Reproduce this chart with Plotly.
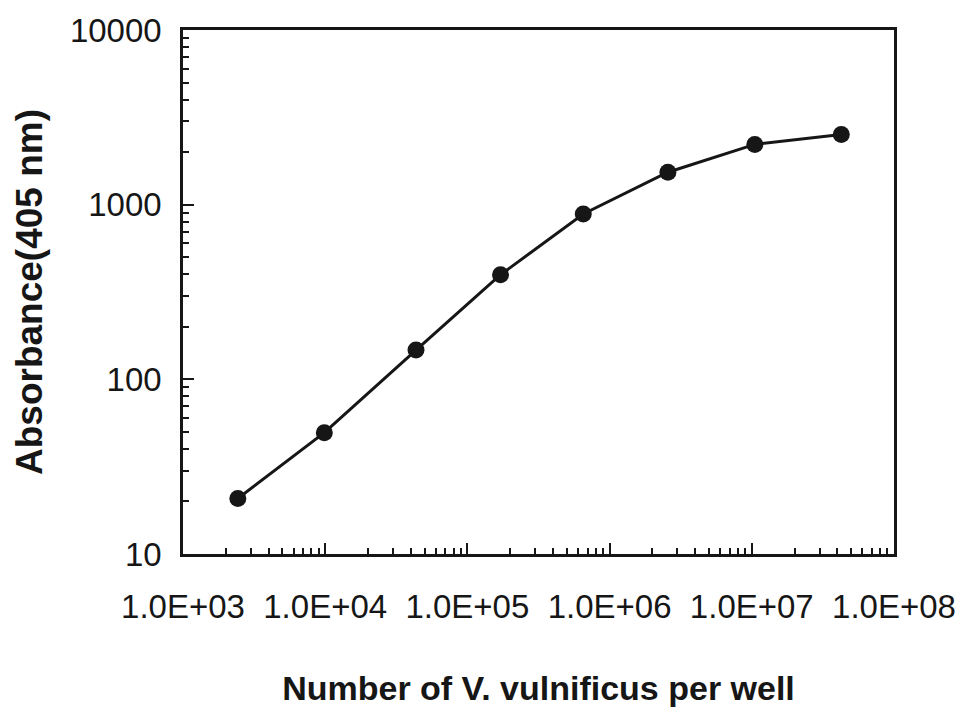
import plotly.graph_objects as go

# Cells per well (4-fold dilution series) and ELISA signal
cells_per_well = [2.43e3, 9.86e3, 4.35e4, 1.71e5, 6.53e5, 2.57e6, 1.05e7, 4.26e7]
absorbance = [20.8, 49.5, 147, 397, 884, 1533, 2213, 2523]

x_tickvals = [1e3, 1e4, 1e5, 1e6, 1e7, 1e8]
x_ticktext = ["1.0E+03", "1.0E+04", "1.0E+05", "1.0E+06", "1.0E+07", "1.0E+08"]
y_tickvals = [10, 100, 1000, 10000]
y_ticktext = ["10", "100", "1000", "10000"]

# Minor ticks at 2..9 within each decade
x_minor = [m * d for d in x_tickvals[:-1] for m in range(2, 10)]
y_minor = [m * d for d in y_tickvals[:-1] for m in range(2, 10)]

ink = "#161616"
font_family = "Liberation Sans, Arial, sans-serif"

fig = go.Figure(
    go.Scatter(
        x=cells_per_well,
        y=absorbance,
        mode="lines+markers",
        line=dict(color=ink, width=3),
        marker=dict(color=ink, size=17),
        showlegend=False,
    )
)

fig.update_layout(
    width=968,
    height=714,
    margin=dict(l=183, r=71, t=27, b=160),
    paper_bgcolor="white",
    plot_bgcolor="white",
    font=dict(family=font_family, color=ink),
)

fig.update_xaxes(
    type="log",
    range=[3, 8],
    tickvals=x_tickvals,
    ticktext=x_ticktext,
    tickfont=dict(size=33),
    ticks="inside",
    ticklen=11,
    tickwidth=2,
    tickcolor=ink,
    minor=dict(
        tickmode="array",
        tickvals=x_minor,
        ticks="inside",
        ticklen=6,
        tickwidth=1.5,
        tickcolor=ink,
        showgrid=False,
    ),
    ticklabelstandoff=22,
    showline=True,
    linecolor=ink,
    linewidth=2.5,
    mirror=True,
    showgrid=False,
    zeroline=False,
    title=dict(
        text="<b>Number of V. vulnificus per well</b>",
        font=dict(size=34),
        standoff=52,
    ),
)

fig.update_yaxes(
    type="log",
    range=[1, 4],
    tickvals=y_tickvals,
    ticktext=y_ticktext,
    tickfont=dict(size=33),
    ticks="inside",
    ticklen=11,
    tickwidth=2,
    tickcolor=ink,
    minor=dict(
        tickmode="array",
        tickvals=y_minor,
        ticks="inside",
        ticklen=6,
        tickwidth=1.5,
        tickcolor=ink,
        showgrid=False,
    ),
    ticklabelstandoff=12,
    showline=True,
    linecolor=ink,
    linewidth=2.5,
    mirror=True,
    showgrid=False,
    zeroline=False,
    title=dict(
        text="<b>Absorbance(405 nm)</b>",
        font=dict(size=37),
        standoff=16,
    ),
)

fig.write_html("out.html")
